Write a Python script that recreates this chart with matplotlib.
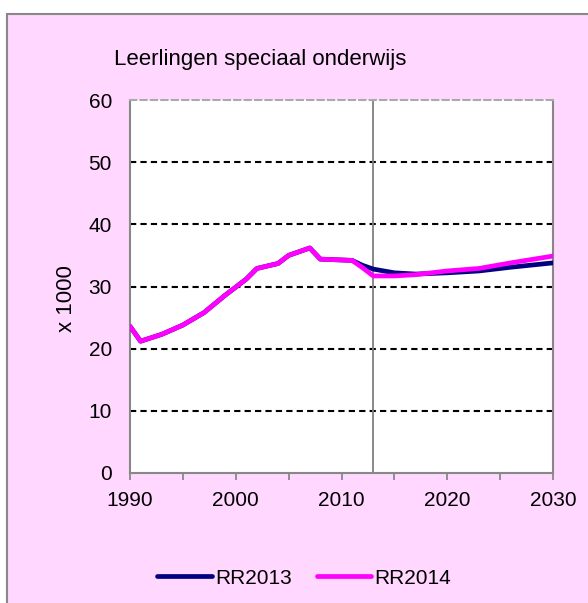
import matplotlib
matplotlib.use("Agg")
import matplotlib.pyplot as plt
from matplotlib.patches import Rectangle
from matplotlib.ticker import MultipleLocator

plt.rcParams['font.family'] = ['Liberation Sans', 'DejaVu Sans']

title = "Leerlingen speciaal onderwijs"
ylabel = "x 1000"
series_names = ["RR2013", "RR2014"]

years_2013 = [1990, 1991, 1993, 1995, 1997, 1999, 2001, 2002, 2004, 2005, 2007, 2008, 2011,
              2012, 2013, 2015, 2017, 2020, 2023, 2026, 2030]
rr2013 = [23.6, 21.2, 22.3, 23.8, 25.8, 28.6, 31.2, 32.9, 33.7, 35.0, 36.2, 34.4, 34.2,
          33.4, 32.8, 32.2, 32.0, 32.2, 32.5, 33.1, 33.8]

years_2014 = [1990, 1991, 1993, 1995, 1997, 1999, 2001, 2002, 2004, 2005, 2007, 2008, 2011,
              2012, 2013, 2015, 2017, 2020, 2023, 2026, 2030]
rr2014 = [23.6, 21.2, 22.3, 23.8, 25.8, 28.6, 31.2, 32.9, 33.7, 35.0, 36.2, 34.4, 34.2,
          33.0, 31.7, 31.7, 31.9, 32.5, 32.9, 33.8, 34.9]

marker_year = 2013
x_range = (1990, 2030)
y_range = (0, 60)
y_ticks = [0, 10, 20, 30, 40, 50, 60]
x_ticks = [1990, 2000, 2010, 2020, 2030]

W, H = 588, 603
fig = plt.figure(figsize=(W / 100, H / 100), dpi=100, facecolor='white')

# outer pink chart area with gray border
fig.patches.append(Rectangle((7 / W, -0.2), 1.2, 1.2 - 14 / H, transform=fig.transFigure,
                             facecolor='#FFD7FF', edgecolor='#888888', linewidth=1.5, zorder=-5))

ax = fig.add_axes([130 / W, 1 - 473 / H, (553 - 130) / W, (473 - 100) / H])
ax.set_zorder(2)
ax.set_facecolor('white')

for y in y_ticks[1:-1]:
    ax.axhline(y, color='black', linestyle=(0, (3, 2)), linewidth=1.5, zorder=1)

ax.axvline(marker_year, color='#808080', linewidth=1.3, zorder=2)

ax.plot(years_2013, rr2013, color='#000080', linewidth=3.4, label=series_names[0],
        solid_capstyle='round', zorder=3)
ax.plot(years_2014, rr2014, color='#FF00FF', linewidth=3.4, label=series_names[1],
        solid_capstyle='round', zorder=4)

ax.set_xlim(*x_range)
ax.set_ylim(*y_range)
ax.set_xticks(x_ticks)
ax.xaxis.set_minor_locator(MultipleLocator(5))
ax.set_yticks(y_ticks)
ax.tick_params(axis='x', which='both', length=5, width=1.3, color='#888888',
               labelsize=15, pad=8, direction='out')
ax.tick_params(axis='y', length=0, labelsize=15, pad=13)

for s in ['left', 'bottom', 'right']:
    ax.spines[s].set_color('#888888')
    ax.spines[s].set_linewidth(1.5)
ax.spines['top'].set_color('#aaaaaa')
ax.spines['top'].set_linewidth(1.5)
ax.spines['top'].set_linestyle((0, (3, 2)))

fig.text(114 / W, 1 - 60 / H, title, fontsize=16, ha='left', va='center')
fig.text(66 / W, 1 - 299 / H, ylabel, fontsize=16, rotation=90, ha='center', va='center')

leg = fig.legend(loc='center', bbox_to_anchor=(304 / W, 1 - 578 / H), ncol=2, frameon=False,
                 fontsize=15, handlelength=2.6, handletextpad=0.15, columnspacing=1.2)

fig.savefig('out.png', dpi=100, facecolor='white')
